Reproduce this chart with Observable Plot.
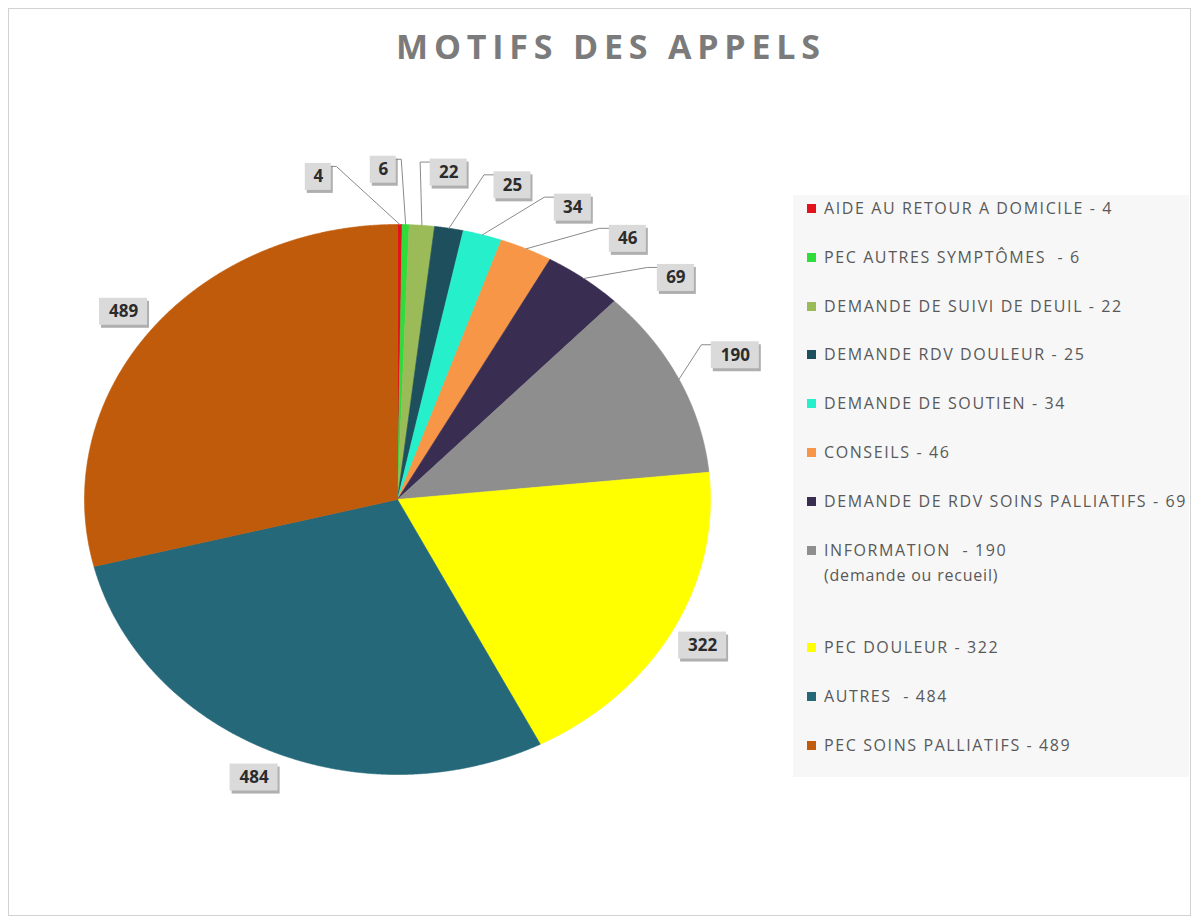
<!DOCTYPE html>
<html>
<head>
<meta charset="utf-8">
<script src="https://cdn.jsdelivr.net/npm/d3@7"></script>
<script src="https://cdn.jsdelivr.net/npm/@observablehq/plot@0.6"></script>
<style>
  body { margin: 0; background: #fff; }
  #wrap { position: relative; width: 1198px; height: 923px; overflow: hidden; font-family: "Open Sans", sans-serif; }
  #frame { position: absolute; left: 8px; top: 8px; width: 1183px; height: 908px; border: 1px solid #d2d2d2; box-sizing: border-box; }
  #title { position: absolute; left: 12px; width: 1198px; top: 26px; text-align: center; font-size: 34px; line-height: 40px; font-weight: 700; letter-spacing: 5.8px; color: #7b7b7b; }
  #legend { position: absolute; left: 793px; top: 195px; width: 396px; height: 582px; background: #f7f7f7; }
  .item { position: absolute; left: 14px; white-space: pre; color: #595959; font-size: 16px; line-height: 20px; letter-spacing: 1.6px; }
  .sw { display: inline-block; width: 9px; height: 9px; margin-right: 8px; vertical-align: 1px; }
  .note { position: absolute; left: 31px; white-space: pre; color: #595959; font-size: 16px; line-height: 20px; letter-spacing: 0.8px; }
  #chart { position: absolute; left: 0; top: 0; }
</style>
</head>
<body>
<div id="wrap">
  <div id="frame"></div>
  <div id="chart"></div>
  <div id="title">MOTIFS DES APPELS</div>
  <div id="legend"></div>
</div>
<script>
// ---- data ----
const categories = [
  "AIDE AU RETOUR A DOMICILE",
  "PEC AUTRES SYMPTÔMES ",
  "DEMANDE DE SUIVI DE DEUIL",
  "DEMANDE RDV DOULEUR",
  "DEMANDE DE SOUTIEN",
  "CONSEILS",
  "DEMANDE DE RDV SOINS PALLIATIFS",
  "INFORMATION ",
  "PEC DOULEUR",
  "AUTRES ",
  "PEC SOINS PALLIATIFS"
];
const values = [4, 6, 22, 25, 34, 46, 69, 190, 322, 484, 489];
const notes = ["", "", "", "", "", "", "", "(demande ou recueil)", "", "", ""];
const colors = ["#e3131b", "#2fdc3a", "#9bbb59", "#1d4f5c", "#26f0cc", "#f79646",
                "#3a2d52", "#8e8e8e", "#ffff00", "#24687a", "#bf5b0a"];

// ---- layout ----
const CX = 397, CY = 499, RX = 313, RY = 275;
const toX = px => (px - CX) / RX;   // pixel -> data units (inverse of x scale)
const toY = py => (CY - py) / RY;
const deg = Math.PI / 180;

const total = d3.sum(values);
let acc = 0;
const slices = values.map((v, i) => {
  const a0 = acc / total * 2 * Math.PI; acc += v;
  const a1 = acc / total * 2 * Math.PI;
  return {i, name: categories[i], value: v, a0, a1, mid: (a0 + a1) / 2, share: v / total};
});

// wedge polygons
const wedges = slices.map(s => {
  const pts = [{x: 0, y: 0}];
  const n = Math.max(2, Math.ceil((s.a1 - s.a0) / 0.004));
  for (let k = 0; k <= n; k++) {
    const a = s.a0 + (s.a1 - s.a0) * k / n;
    pts.push({x: Math.sin(a), y: Math.cos(a)});
  }
  pts.push({x: 0, y: 0});
  return pts;
});
const ellipse = d3.range(0, 361, 2).map(a => ({x: Math.sin(a * deg), y: Math.cos(a * deg)}));

// label placement: small slices get leader lines, spread along an arc
const leaderShare = 0.15, gap = 10 * deg, firstShift = -12.6 * deg;
let prev = null;
const labels = slices.map(s => {
  const lead = s.share < leaderShare;
  let ang, r;
  if (lead) {
    if (prev === null) ang = s.mid + firstShift;
    else ang = (s.mid - prev > 1.5 * gap) ? s.mid : prev + gap;
    prev = ang; r = 1.2;
  } else { ang = s.mid; r = 1.11; }
  const px = CX + RX * r * Math.sin(ang), py = CY - RY * r * Math.cos(ang);
  const w = String(s.value).length * 11 + 15, h = 27;
  const bx0 = px - w / 2, bx1 = px + w / 2, by0 = py - h / 2, by1 = py + h / 2;
  let leader = null;
  if (lead) {
    const sx = CX + RX * Math.sin(s.mid), sy = CY - RY * Math.cos(s.mid);
    let A, E;
    if (sx < bx0) { A = [bx0, by0 + 3]; E = [bx0 - 10, by0 + 3]; }
    else if (sx > bx1) { A = [bx1, by0 + 3]; E = [bx1 + 5, by0 + 3]; }
    else { A = [sx, by1]; E = [sx, by1]; }
    leader = [[sx, sy], E, A].map(([a, b]) => ({x: toX(a), y: toY(b), i: s.i}));
  }
  return {...s, x: toX(px), y: toY(py), x1: toX(bx0), x2: toX(bx1), y1: toY(by0), y2: toY(by1), leader};
});
const leaderPts = labels.filter(d => d.leader).flatMap(d => d.leader);

const marks = [
  Plot.line(ellipse, {x: "x", y: "y", fill: "#c3c9d8", stroke: "none", dx: 1, dy: 2, ariaLabel: "pieshadow"}),
  ...wedges.map((pts, i) => Plot.line(pts, {x: "x", y: "y", fill: colors[i], stroke: colors[i], strokeWidth: 0.6})),
  Plot.line(leaderPts, {x: "x", y: "y", z: "i", stroke: "#8a8a8a", strokeWidth: 1}),
  Plot.rect(labels, {x1: "x1", x2: "x2", y1: "y1", y2: "y2", fill: "#7a7a7a", fillOpacity: 0.6, dx: 2, dy: 3, ariaLabel: "boxshadow"}),
  Plot.rect(labels, {x1: "x1", x2: "x2", y1: "y1", y2: "y2", fill: "#dadada"}),
  Plot.text(labels, {x: "x", y: "y", text: d => String(d.value), fontSize: 17, fontWeight: "bold",
                     fill: "#2b2b2b", fontFamily: "Open Sans, sans-serif"})
];

const svg = Plot.plot({
  width: 1198, height: 923, margin: 0,
  x: {domain: [-1, 1], range: [CX - RX, CX + RX], axis: null},
  y: {domain: [-1, 1], range: [CY + RY, CY - RY], axis: null},
  style: {background: "transparent", overflow: "visible"},
  marks
});
d3.select(svg).selectAll('g[aria-label="pieshadow"]').style("filter", "blur(6px)");
d3.select(svg).selectAll('g[aria-label="boxshadow"]').style("filter", "blur(1.5px)");
document.getElementById("chart").appendChild(svg);

// ---- legend ----
const legend = d3.select("#legend");
const slotH = 48.8, firstCenter = 13;
const slots = [0, 1, 2, 3, 4, 5, 6, 7, 9, 10, 11];
slices.forEach((s, i) => {
  const top = firstCenter + slots[i] * slotH - 10;
  const it = legend.append("div").attr("class", "item").style("top", top + "px");
  it.append("span").attr("class", "sw").style("background", colors[i]);
  it.append("span").text(`${s.name} - ${s.value}`);
  if (notes[i]) legend.append("div").attr("class", "note").style("top", (top + 25) + "px").text(notes[i]);
});
</script>
</body>
</html>
